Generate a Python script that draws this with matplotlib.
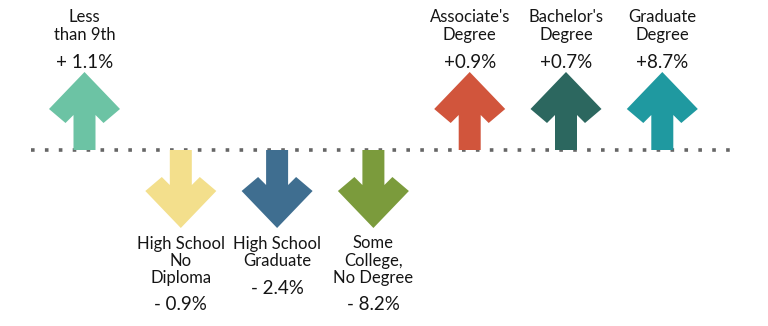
import matplotlib
matplotlib.use("Agg")
import matplotlib.pyplot as plt
from matplotlib.patches import Polygon

# data
labels = ["Less\nthan 9th", "High School\nNo\nDiploma", "High School\nGraduate",
          "Some\nCollege,\nNo Degree", "Associate's\nDegree", "Bachelor's\nDegree",
          "Graduate\nDegree"]
changes = [1.1, -0.9, -2.4, -8.2, 0.9, 0.7, 8.7]
change_text = ["+ 1.1%", "- 0.9%", "- 2.4%", "- 8.2%", "+0.9%", "+0.7%", "+8.7%"]
colors = ["#6cc3a4", "#f3df8c", "#3f6e90", "#7b9b3c", "#d1553c", "#2c675f", "#1f99a0"]

FONT = "Lato"
BASE_Y = 150
X0, DX = 84.5, 96.3
L = 78  # arrow length in px


def arrow(cx, up):
    # outline relative to tip, pointing down (+y)
    pts = [(0, 0), (35.5, -37), (19, -51), (11, -43), (11, -L),
           (-11, -L), (-11, -43), (-19, -51), (-35.5, -37)]
    if up:
        tip = BASE_Y - L
        return [(cx + x, tip - y) for x, y in pts]
    tip = BASE_Y + L
    return [(cx + x, tip + y) for x, y in pts]


fig = plt.figure(figsize=(7.68, 3.26), dpi=100)
ax = fig.add_axes([0, 0, 1, 1])
ax.set_xlim(0, 768)
ax.set_ylim(326, 0)
ax.axis("off")

# dotted baseline
ax.plot([31, 731], [BASE_Y, BASE_Y], color="#666666", lw=2.6,
        linestyle=(0, (1, 2.85)), zorder=1)

for i, (lab, v, t, c) in enumerate(zip(labels, changes, change_text, colors)):
    cx = X0 + i * DX
    up = v > 0
    ax.add_patch(Polygon(arrow(cx, up), closed=True, facecolor=c,
                         edgecolor="none", zorder=2))
    nlines = lab.count("\n") + 1
    if up:
        ax.text(cx, 9, lab, ha="center", va="top", fontsize=12,
                family=FONT, linespacing=1.15, color="#151515")
        ax.text(cx, 62, t, ha="center", va="center", fontsize=13.5,
                family=FONT, color="#151515")
    else:
        ax.text(cx, 235.5, lab, ha="center", va="top", fontsize=12,
                family=FONT, linespacing=1.08, color="#151515")
        ax.text(cx, 259 + 15 * nlines, t, ha="center", va="center",
                fontsize=13.5, family=FONT, color="#151515")

fig.savefig("out.png", dpi=100, facecolor="white")
